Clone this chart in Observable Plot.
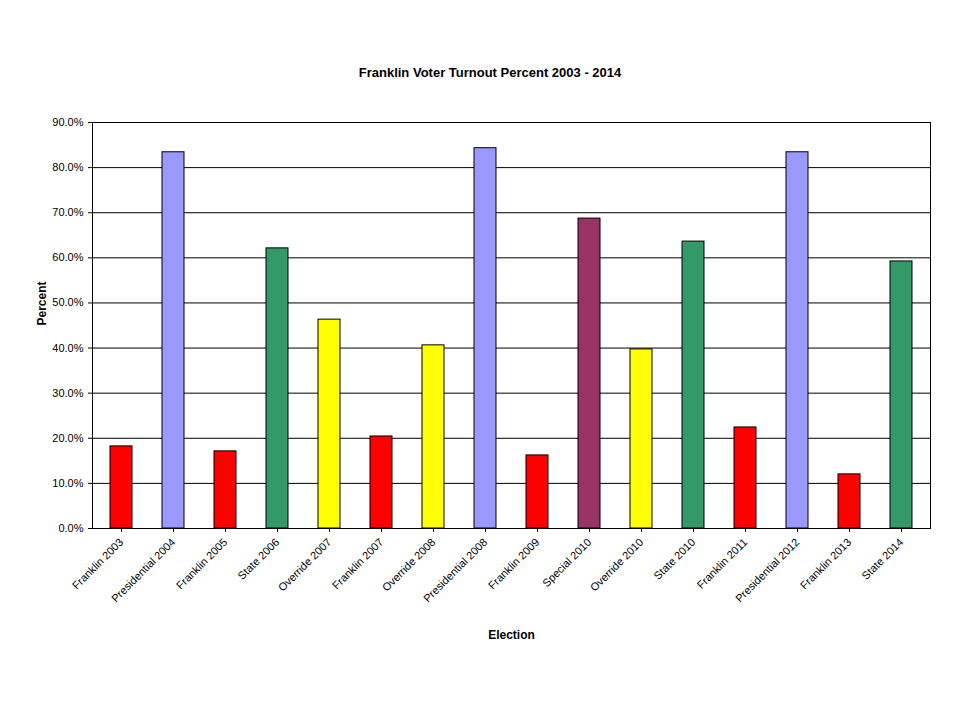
<!DOCTYPE html>
<html><head>
<script src="https://cdn.jsdelivr.net/npm/d3@7"></script>
<script src="https://cdn.jsdelivr.net/npm/@observablehq/plot@0.6"></script>
<style>body{margin:0;background:#fff;font-family:"Liberation Sans",Arial,sans-serif}
#wrap{position:relative;width:960px;height:720px}
#title{position:absolute;top:65px;left:0;width:940px;text-align:center;font-weight:bold;font-size:13px;padding-left:20px}
</style></head><body>
<div id="wrap"><div id="title">Franklin Voter Turnout Percent 2003 - 2014</div><div id="chart"></div></div>
<script>
const elections = ["Franklin 2003","Presidential 2004","Franklin 2005","State 2006","Override 2007","Franklin 2007","Override 2008","Presidential 2008","Franklin 2009","Special 2010","Override 2010","State 2010","Franklin 2011","Presidential 2012","Franklin 2013","State 2014"];
const turnout = [18.2,83.4,17.1,62.1,46.3,20.4,40.6,84.3,16.2,68.7,39.7,63.6,22.4,83.4,12.0,59.2];
const types = ["Local","Presidential","Local","State","Override","Local","Override","Presidential","Local","Special","Override","State","Local","Presidential","Local","State"];
const typeNames = ["Local","Presidential","State","Override","Special"];
const typeColors = ["#FF0000","#9999FF","#339966","#FFFF00","#993366"];
const yTicks = [0,10,20,30,40,50,60,70,80,90];
const data = elections.map((e,i)=>({election:e,value:turnout[i],type:types[i]}));
const chart = Plot.plot({
  width:960,height:720,marginLeft:92,marginRight:30,marginTop:122,marginBottom:192,
  style:{fontFamily:"Liberation Sans, Arial, sans-serif",fontSize:"11px",color:"#000",background:"#fff"},
  x:{domain:elections,paddingInner:0.58,paddingOuter:0.29,label:null},
  y:{domain:[0,90],label:null},
  color:{domain:typeNames,range:typeColors},
  marks:[
    Plot.gridY(yTicks,{stroke:"#000",strokeOpacity:1}),
    Plot.barY(data,{x:"election",y:"value",fill:"type",stroke:"#000",strokeWidth:1}),
    Plot.frame({stroke:"#000"}),
    Plot.axisY(yTicks,{tickFormat:d=>d.toFixed(1)+"%",tickSize:4,fontSize:11}),
    Plot.axisX({tickRotate:-45,tickSize:4,fontSize:11,label:null}),
    Plot.text(["Percent"],{frameAnchor:"left",dx:-50,rotate:-90,fontWeight:"bold",fontSize:12}),
    Plot.text(["Election"],{frameAnchor:"bottom",dy:110,fontWeight:"bold",fontSize:12})
  ]
});
document.getElementById("chart").appendChild(chart);
</script>
</body></html>
